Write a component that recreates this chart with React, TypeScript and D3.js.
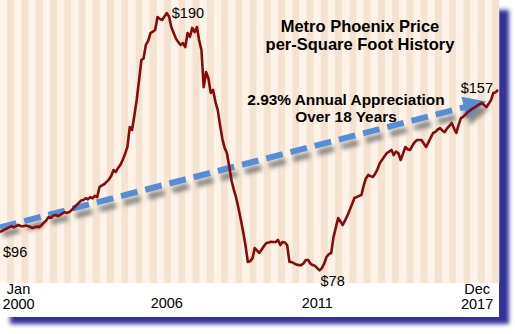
import React from 'react';
import * as d3 from 'd3';

// Monthly price per square foot, Jan 2000 .. Dec 2017
const START_YEAR = 2000;
const PRICES: number[] = [
  // 2000
  96, 96.5, 97, 97.5, 98, 98.5, 98, 98.5, 99, 98.5, 98.5, 98.8,
  // 2001
  98.6, 98.2, 97.7, 98, 98.3, 98.1, 99, 100, 101, 102.4, 102, 103,
  // 2002
  103.3, 102.8, 103.3, 104, 104.5, 104.2, 104.6, 105.5, 106.5, 107.5, 108.5, 109.5,
  // 2003
  109.7, 110.5, 110, 111, 110.5, 111.5, 111, 115.3, 116, 116.5, 117.5, 118.5,
  // 2004
  120, 122.6, 121.8, 123.5, 124.8, 127, 129.5, 132.5, 141, 139.8, 146, 152.7,
  // 2005
  161, 169.8, 170.5, 176.3, 178, 181.4, 182, 182.7, 188.3, 187.5, 187, 188.5,
  // 2006
  190, 188.3, 184, 181.4, 179, 177.5, 176.3, 177.1, 175.4, 181.4, 179.7, 183.6,
  // 2007
  181.8, 184, 178.4, 174.1, 158.2, 164.7, 162, 155.7, 157, 152, 148.4, 142,
  // 2008
  136, 132, 129.9, 123.9, 118, 114, 110.6, 106, 101, 96, 90, 83.1,
  // 2009
  83.5, 84.8, 89.1, 88, 87, 88.5, 90, 91.3, 91.5, 91.8, 91.7, 91.7,
  // 2010
  92.6, 90.4, 91.7, 91.5, 90.4, 83.1, 83.1, 82.5, 82, 81.8, 81.8, 82.5,
  // 2011
  84, 84, 82.5, 81.8, 81.5, 80.5, 79.5, 80.5, 82.5, 85.3, 86.5, 87,
  // 2012
  93.9, 98, 102, 100.5, 99, 101, 103, 105.5, 108, 110.6, 111, 111.5,
  // 2013
  111.9, 116, 119, 120.5, 120, 119.6, 121, 123, 125.6, 127, 128.5, 129.9,
  // 2014
  130.5, 131.2, 129, 130.5, 129.9, 126.9, 129.5, 132.5, 131.5, 131.2, 133, 134.5,
  // 2015
  135.5, 135.5, 135.5, 134, 132.5, 134.5, 136.5, 138.5, 139, 140, 140.6, 139.5,
  // 2016
  138.9, 140.5, 141.5, 142.8, 140.5, 138.5, 142, 144.9, 145.5, 146.5, 147.5, 148.2,
  // 2017
  149, 149.6, 150.2, 150.8, 151.4, 150.5, 149.6, 151, 152.7, 155.7, 156, 157,
];

// x-axis labels: lines of text and the month each label is centred on
const TICK_LABELS: string[][] = [['Jan', '2000'], ['2006'], ['2011'], ['Dec', '2017']];
const TICK_MONTHS: [number, number][] = [[2000, 8], [2006, 0], [2011, 5], [2017, 2]];

// value callouts
const CALLOUT_TEXT = ['$96', '$190', '$78', '$157'];
const CALLOUT_MONTH: [number, number][] = [[2000, 0], [2006, 0], [2011, 6], [2017, 11]];

// trend arrow (start, tip)
const ARROW_MONTHS: [number, number][] = [[2000, 0], [2017, 6]];
const ARROW_VALUES = [98, 152];

const TITLE = ['Metro Phoenix Price', 'per-Square Foot History'];
const NOTE = ['2.93% Annual Appreciation', 'Over 18 Years'];

export default function App() {
  const W = 515;
  const H = 334;
  const plotW = 499;
  const plotH = 283;
  const boxH = 317;

  const dates = PRICES.map((_, i) => new Date(START_YEAR, i, 1));
  const x = d3.scaleTime().domain([dates[0], dates[dates.length - 1]]).range([0, 498]);
  const y = d3.scaleLinear().domain([96, 190]).range([232, 13]);

  const linePath = d3
    .line<number>()
    .x((_, i) => x(dates[i]))
    .y((d) => y(d))
    .curve(d3.curveLinear)(PRICES) as string;

  const stripes = d3.scaleBand<number>().domain(d3.range(70)).range([0, plotW]);

  // arrow geometry from data
  const p0 = [x(new Date(ARROW_MONTHS[0][0], ARROW_MONTHS[0][1], 1)), y(ARROW_VALUES[0])];
  const p1 = [x(new Date(ARROW_MONTHS[1][0], ARROW_MONTHS[1][1], 1)), y(ARROW_VALUES[1])];
  const dx = p1[0] - p0[0];
  const dy = p1[1] - p0[1];
  const len = Math.hypot(dx, dy);
  const ux = dx / len;
  const uy = dy / len;
  const nx = -uy;
  const ny = ux;
  const headL = 23;
  const headW = 11;
  const bx = p1[0] - ux * headL;
  const by = p1[1] - uy * headL;
  const head = `M${p1[0]},${p1[1]}L${bx + nx * headW},${by + ny * headW}L${bx - nx * headW},${by - ny * headW}Z`;

  const font = "'Liberation Sans', Arial, sans-serif";
  const cm = (i: number) => new Date(CALLOUT_MONTH[i][0], CALLOUT_MONTH[i][1], 1);
  const calloutPos: { x: number; y: number; anchor: string }[] = [
    { x: x(cm(0)) + 3, y: y(PRICES[0]) + 25, anchor: 'start' },
    { x: x(cm(1)) + 5, y: y(190) + 5, anchor: 'start' },
    { x: x(cm(2)) + 1, y: y(79.5) + 16, anchor: 'start' },
    { x: x(cm(3)) - 5, y: y(157) + 3, anchor: 'end' },
  ];

  return (
    <svg
      width={W}
      height={H}
      style={{ position: 'absolute', left: 0, top: 0, background: '#fff' }}
    >
      <defs>
        <filter id="navyBlur" x="-10%" y="-10%" width="120%" height="120%">
          <feGaussianBlur stdDeviation="2.2" />
        </filter>
        <filter id="arrowShadow" x="-10%" y="-50%" width="120%" height="250%">
          <feGaussianBlur in="SourceAlpha" stdDeviation="2.2" />
          <feOffset dx="3" dy="7" result="off" />
          <feFlood floodColor="#6e6e6e" floodOpacity="0.8" />
          <feComposite in2="off" operator="in" result="sh" />
          <feMerge>
            <feMergeNode in="sh" />
            <feMergeNode in="SourceGraphic" />
          </feMerge>
        </filter>
      </defs>

      {/* frame shadow */}
      <rect x={10} y={10} width={499} height={314} fill="#333399" filter="url(#navyBlur)" />
      <rect x={0} y={0} width={plotW} height={boxH} fill="#fff" />

      {/* stripes */}
      {stripes.domain().map((i) => (
        <rect
          key={i}
          x={stripes(i)}
          y={0}
          width={stripes.bandwidth() + 0.3}
          height={plotH}
          fill={i % 2 === 0 ? '#FDF3E8' : '#F5E3D2'}
        />
      ))}

      {/* trend arrow */}
      <g filter="url(#arrowShadow)">
        <line
          x1={p0[0]}
          y1={p0[1]}
          x2={bx + ux * 2}
          y2={by + uy * 2}
          stroke="#558ED5"
          strokeWidth={6}
          strokeDasharray="17 8"
        />
        <path d={head} fill="#558ED5" />
      </g>

      {/* price line */}
      <path d={linePath} fill="none" stroke="#8A0A0A" strokeWidth={2.6} strokeLinejoin="round" />

      {/* callouts */}
      {CALLOUT_TEXT.map((t, i) => (
        <text
          key={t}
          x={calloutPos[i].x}
          y={calloutPos[i].y}
          textAnchor={calloutPos[i].anchor}
          fontFamily={font}
          fontSize={14.5}
          fill="#000"
        >
          {t}
        </text>
      ))}

      {/* title */}
      <text x={360} y={32} textAnchor="middle" fontFamily={font} fontSize={16.5} fontWeight="bold">
        {TITLE.map((l, i) => (
          <tspan key={i} x={360} dy={i === 0 ? 0 : 17.5}>
            {l}
          </tspan>
        ))}
      </text>

      {/* note */}
      <text x={346} y={105} textAnchor="middle" fontFamily={font} fontSize={15.4} fontWeight="bold">
        {NOTE.map((l, i) => (
          <tspan key={i} x={346} dy={i === 0 ? 0 : 16.5}>
            {l}
          </tspan>
        ))}
      </text>

      {/* x labels */}
      {TICK_LABELS.map((lines, i) => {
        const tx = x(new Date(TICK_MONTHS[i][0], TICK_MONTHS[i][1], 1));
        const two = lines.length === 2;
        return (
          <text
            key={i}
            textAnchor="middle"
            fontFamily={font}
            fontSize={14.5}
            fill="#000"
            y={two ? 294 : 308}
          >
            {lines.map((l, j) => (
              <tspan key={j} x={tx} dy={j === 0 ? 0 : 15}>
                {l}
              </tspan>
            ))}
          </text>
        );
      })}
    </svg>
  );
}
